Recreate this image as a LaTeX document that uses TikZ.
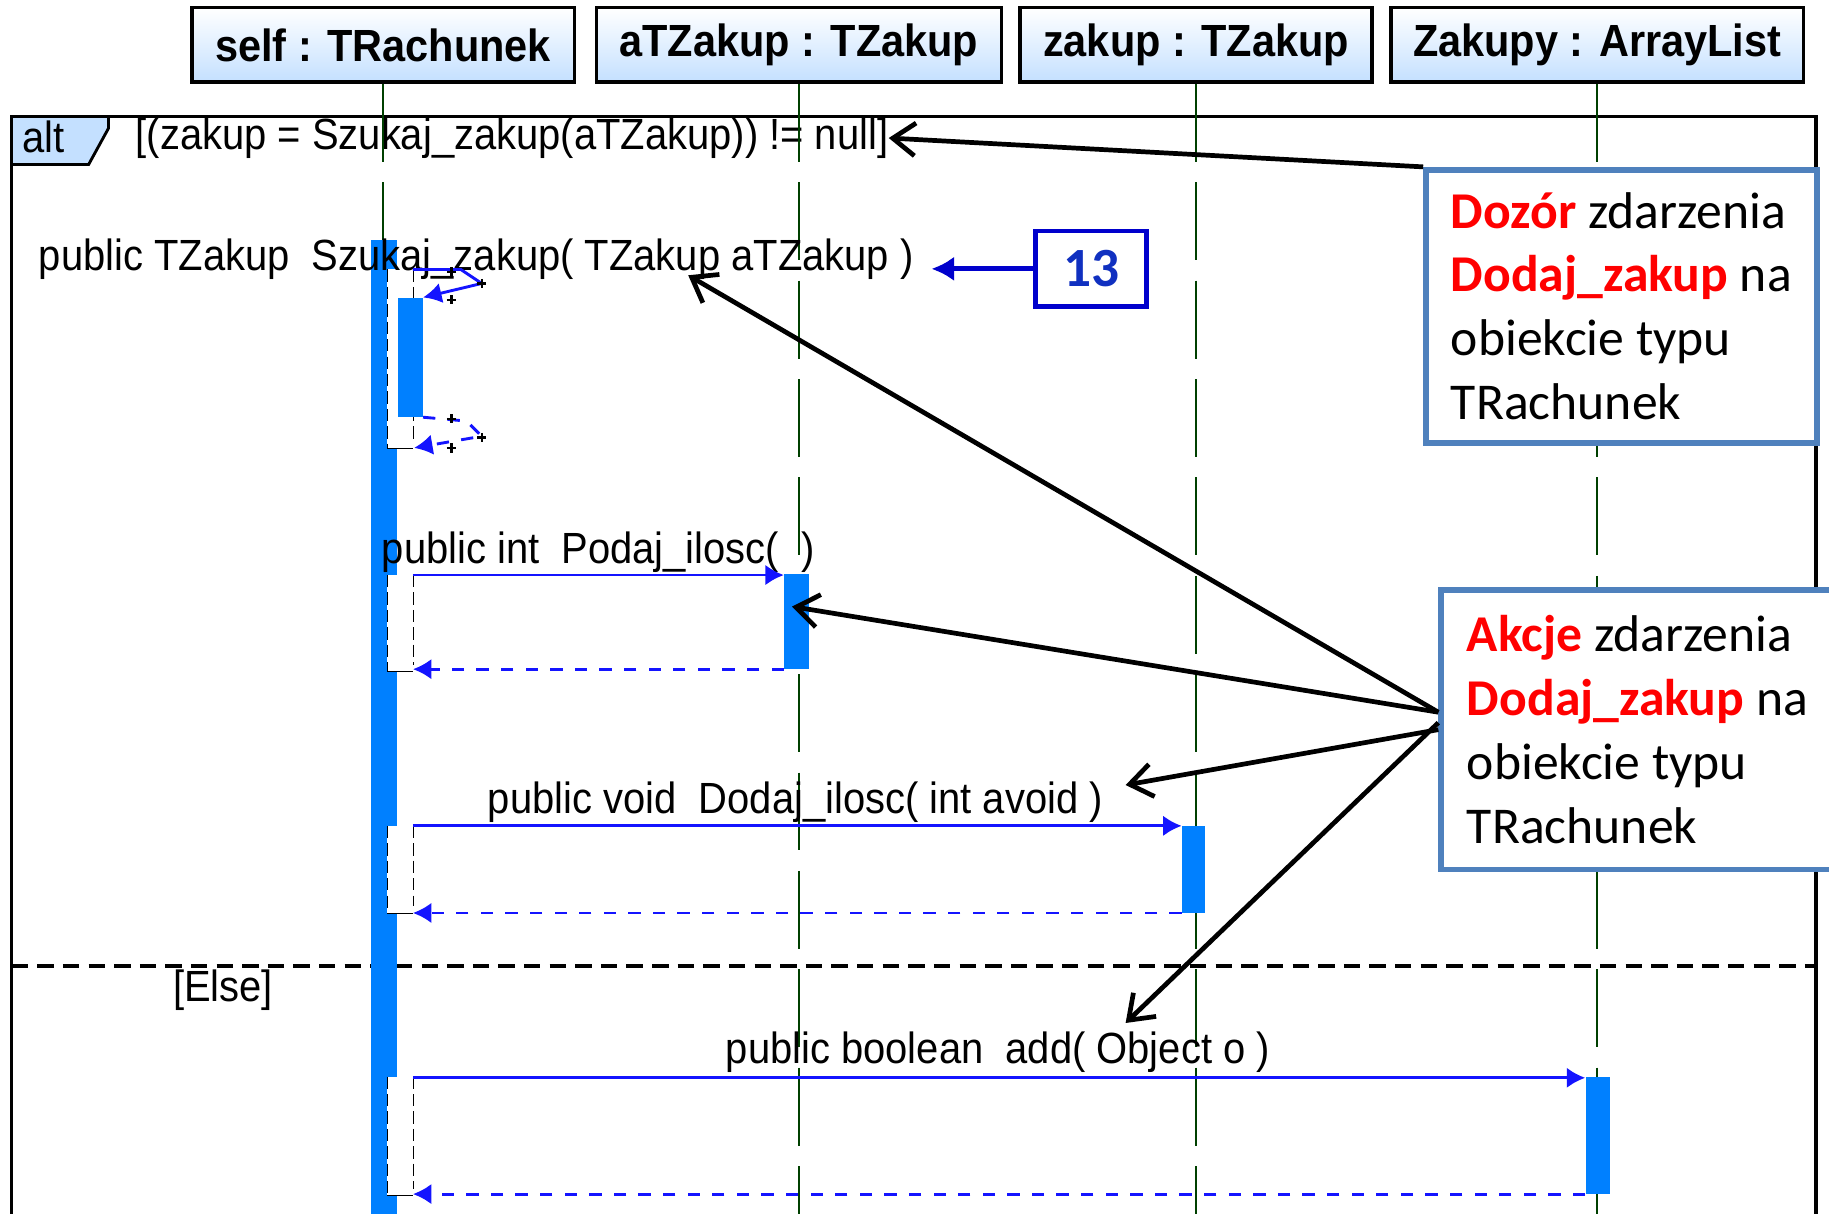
\documentclass[tikz,border=0pt]{standalone}
\usepackage{fontspec}
\setmainfont{Liberation Sans}
\newfontfamily\umlfont[FakeStretch=0.915]{Liberation Sans}
\newfontfamily\headfamily[FakeStretch=0.92]{Liberation Sans}
\newfontfamily\notefont{Carlito}
\usetikzlibrary{positioning,arrows.meta}

\definecolor{actBlue}{RGB}{0,128,255}
\definecolor{msgBlue}{RGB}{20,20,255}
\definecolor{lifeGreen}{RGB}{0,64,0}
\definecolor{headBlue}{RGB}{196,224,255}
\definecolor{noteBorder}{RGB}{79,129,189}
\definecolor{numBlue}{RGB}{0,0,204}
\definecolor{numText}{RGB}{16,48,192}

\newcommand{\msgfont}{\umlfont\fontsize{21.3pt}{25pt}\selectfont}
\newcommand{\headfont}{\headfamily\bfseries\fontsize{22pt}{26pt}\selectfont}
\newcommand{\notetext}{\notefont\fontsize{25.2pt}{31.2pt}\selectfont}

\begin{document}
\begin{tikzpicture}[x=0.02cm,y=-0.02cm]
    \tikzstyle{every node} = [font=\msgfont, inner sep=0pt]
    \tikzstyle{head} = [draw, rectangle, line width=1.7pt, top color=white, bottom color=headBlue, minimum height=1.28cm, font=\headfont]
    \tikzstyle{lifeline} = [lifeGreen, line width=1.1pt, dash pattern=on 38pt off 10pt]
    \tikzstyle{activation} = [rectangle, fill=actBlue, anchor=north west]
    \tikzstyle{msgLabel} = [anchor=base west]
    \tikzstyle{call} = [msgBlue, line width=1.4pt, -{Latex[length=9pt,width=10pt]}]
    \tikzstyle{reply} = [call, dash pattern=on 6pt off 6pt]
    \tikzstyle{note} = [draw=noteBorder, line width=2.8pt, fill=white, rectangle, align=left, font=\notetext]
    \tikzstyle{numberBox} = [draw=numBlue, line width=2.3pt, rectangle, text=numText, font=\notefont\bfseries\fontsize{27pt}{30pt}\selectfont]
    \tikzstyle{noteArrow} = [line width=2.3pt, -{Straight Barb[length=11pt,width=16pt]}]

    % background and alt frame
    \fill[white] (0,0) rectangle (1568,1040);
    \useasboundingbox (0,0) rectangle (1568,1040);
    \fill[headBlue] (10,100) -- (93,100) -- (93,110) -- (76,141) -- (10,141) -- cycle;
    \draw[line width=1.4pt] (93,100) -- (93,110) -- (76,141) -- (10,141);
    \draw[line width=1.7pt] (10,1080) -- (10,100) -- (1557,100) -- (1557,1080);
    \draw[line width=1.7pt, dash pattern=on 8pt off 4.5pt] (10,828) -- (1557,828);
    \node[msgLabel] (altTag) at (19,131) {alt};
    \node[msgLabel] (guardLabel) at (116,128) {[(zakup = Szukaj\_zakup(aTZakup)) != null]};
    \node[msgLabel] (elseLabel) at (148,859) {[Else]};

    % place nodes
    \node[head, minimum width=6.56cm] (selfHead) at (328.5,38.5) {self : TRachunek};
    \node[head, minimum width=6.94cm, right=0.32cm of selfHead] (aTZakupHead) {aTZakup : TZakup};
    \node[head, minimum width=6.04cm, right=0.26cm of aTZakupHead] (zakupHead) {zakup : TZakup};
    \node[head, minimum width=7.08cm, right=0.26cm of zakupHead] (zakupyHead) {Zakupy : ArrayList};

    % lifelines
    \foreach \h in {selfHead,aTZakupHead,zakupHead,zakupyHead}
        \draw[lifeline] (\h.south) -- ++(0,1000);

    % activations
    \node[activation, minimum width=0.44cm, minimum height=17.1cm] (selfAct) at (318,205) {};
    \foreach \ya/\yb in {231/384, 493/576, 708/783, 923/1025}{
        \fill[white] (332,\ya) rectangle (354,\yb);
        \draw[dash pattern=on 6pt off 2.5pt] (332,\ya) -- (332,\yb) (354,\ya) -- (354,\yb-6);
        \draw (332,\yb) -- (354,\yb);
    }
    \node[activation, minimum width=0.42cm, minimum height=2.04cm] (nestedAct) at (341,255) {};
    \node[activation, minimum width=0.42cm, minimum height=1.62cm] (podajAct) at (672,492) {};
    \node[activation, minimum width=0.40cm, minimum height=1.48cm] (dodajAct) at (1013,708) {};
    \node[activation, minimum width=0.42cm, minimum height=2.0cm] (addAct) at (1359,923) {};

    % messages
    \node[msgLabel] (szukajLabel) at (33,231.5) {public TZakup\ \ Szukaj\_zakup( TZakup aTZakup )};
    \node[msgLabel] (podajLabel) at (327,483) {public int\ \ Podaj\_ilosc(\ \ )};
    \node[msgLabel] (dodajLabel) at (418,697) {public void\ \ Dodaj\_ilosc( int avoid )};
    \node[msgLabel] (addLabel) at (622,912) {public boolean\ \ add( Object o )};

    \coordinate (szukajFrom) at (354,231);
    \coordinate (szukajBack) at (355,384);
    \coordinate (podajFrom) at (354,493);
    \coordinate (dodajFrom) at (354,708);
    \coordinate (addFrom) at (354,924);

    \draw[call] (szukajFrom) -- (395,231) -- (413,243) -- (nestedAct.north east);
    \draw[reply] (nestedAct.south east) -- (400,361) -- (413,374) -- (szukajBack);
    \foreach \mx/\my in {387/233, 413/243, 387/257, 387/359, 413/375, 387/384}
        \draw[line width=1.2pt] (\mx-4,\my) -- (\mx+4,\my) (\mx,\my-4) -- (\mx,\my+4);

    \draw[call] (podajFrom) -- (podajFrom -| podajAct.west);
    \draw[reply] (podajAct.south west) -- (podajFrom |- podajAct.south west);
    \draw[call] (dodajFrom) -- (dodajFrom -| dodajAct.west);
    \draw[reply] (dodajAct.south west) -- (dodajFrom |- dodajAct.south west);
    \draw[call] (addFrom) -- (addFrom -| addAct.west);
    \draw[reply] (addAct.south west) -- (addFrom |- addAct.south west);

    % notes
    \node[note, minimum width=6.7cm, minimum height=4.68cm] (dozorNote) at (1390,262.5)
        {\textcolor{red}{\bfseries Dozór} zdarzenia\\ \textcolor{red}{\bfseries Dodaj\_zakup} na\\ obiekcie typu\\ TRachunek};
    \node[note, minimum width=6.73cm, minimum height=4.8cm] (akcjeNote) at (1403.75,625.5)
        {\textcolor{red}{\bfseries Akcje} zdarzenia\\ \textcolor{red}{\bfseries Dodaj\_zakup} na\\ obiekcie typu\\ TRachunek};
    \node[numberBox, minimum width=1.9cm, minimum height=1.3cm] (numTag) at (935.5,230.5) {13};

    \coordinate (szukajTarget) at (590,236);
    \coordinate (podajTarget) at (679,520);
    \coordinate (dodajTarget) at (965,673);
    \coordinate (addTarget) at (965,877);

    % Connections
    \draw[noteArrow] (dozorNote.north west) -- (guardLabel.east);
    \draw[noteArrow] (akcjeNote.175) -- (szukajTarget);
    \draw[noteArrow] (akcjeNote.175) -- (podajTarget);
    \draw[noteArrow] (akcjeNote.west) -- (dodajTarget);
    \draw[noteArrow] (akcjeNote.178) -- (addTarget);
    \draw[numBlue, line width=2.5pt, -{Latex[length=11pt,width=12pt]}]
    (numTag.west) -- ([xshift=0.3cm]numTag.west -| szukajLabel.east);
\end{tikzpicture}
\end{document}
